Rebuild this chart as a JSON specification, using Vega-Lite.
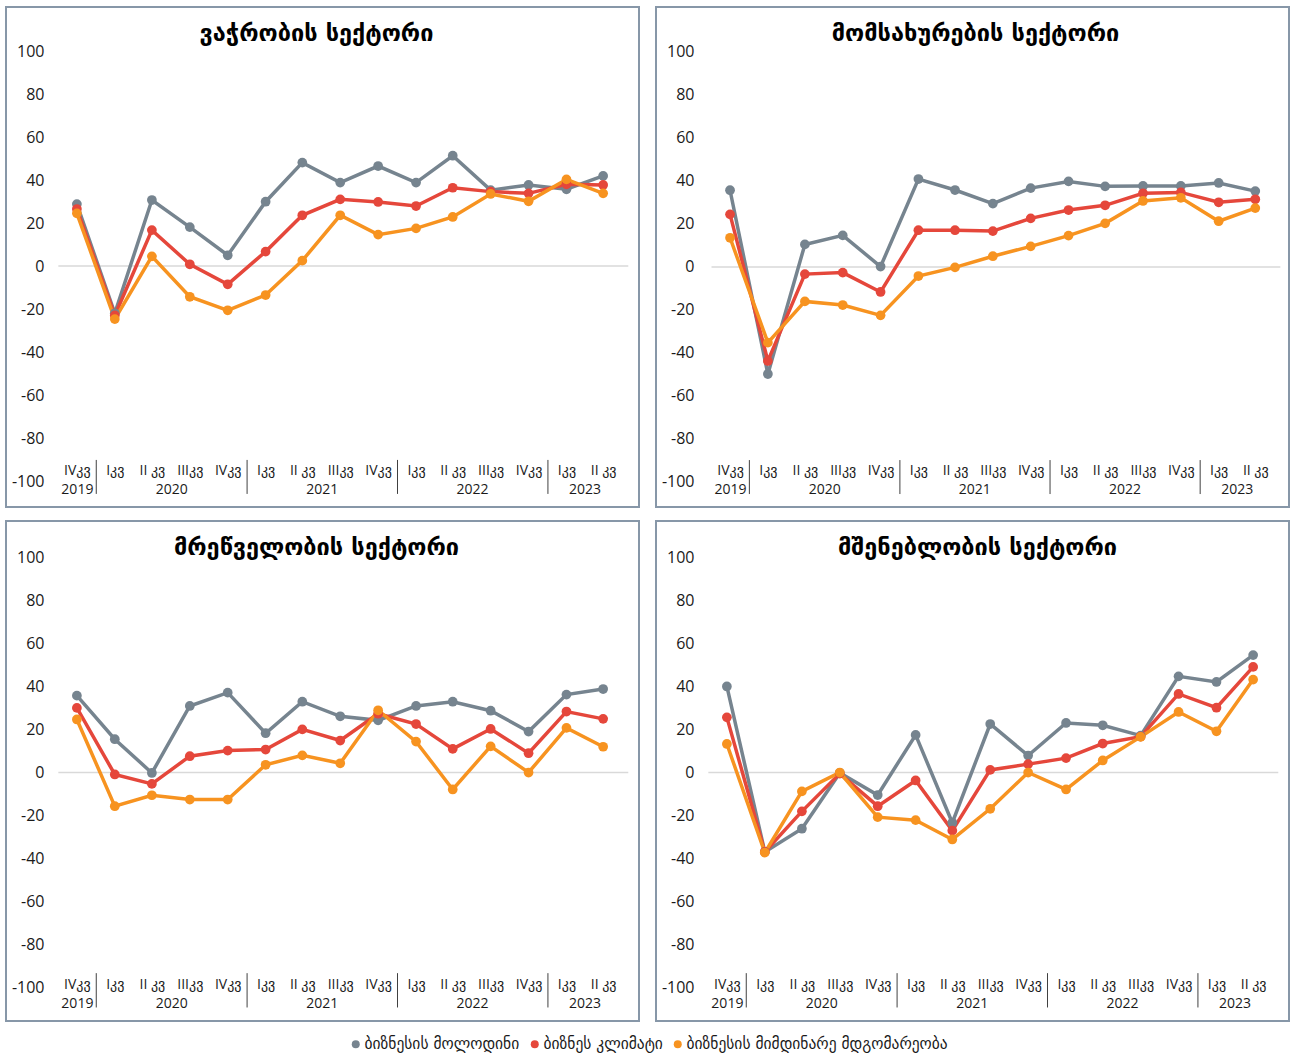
{
  "$schema": "https://vega.github.io/schema/vega-lite/v6.json",
  "padding": {"left": 5, "top": 6, "right": 0, "bottom": 30},
  "background": "white",
  "datasets": {
    "series": [
      {"k": "g", "name": "ბიზნესის მოლოდინი"},
      {"k": "r", "name": "ბიზნეს კლიმატი"},
      {"k": "o", "name": "ბიზნესის მიმდინარე მდგომარეობა"}
    ],
    "bounds": [{"b": "2020-01-01"}, {"b": "2021-01-01"}, {"b": "2022-01-01"}, {"b": "2023-01-01"}],
    "main": [
      {"s": "t", "d": "2019-11-15", "g": 28.8, "r": 26.5, "o": 24.5},
      {"s": "t", "d": "2020-02-15", "g": -22.0, "r": -23.0, "o": -24.7},
      {"s": "t", "d": "2020-05-15", "g": 30.7, "r": 16.7, "o": 4.5},
      {"s": "t", "d": "2020-08-15", "g": 18.1, "r": 0.8, "o": -14.3},
      {"s": "t", "d": "2020-11-15", "g": 5.0, "r": -8.5, "o": -20.6},
      {"s": "t", "d": "2021-02-15", "g": 29.9, "r": 6.7, "o": -13.5},
      {"s": "t", "d": "2021-05-15", "g": 48.1, "r": 23.6, "o": 2.5},
      {"s": "t", "d": "2021-08-15", "g": 38.8, "r": 31.0, "o": 23.6},
      {"s": "t", "d": "2021-11-15", "g": 46.5, "r": 29.8, "o": 14.6},
      {"s": "t", "d": "2022-02-15", "g": 38.8, "r": 27.9, "o": 17.5},
      {"s": "t", "d": "2022-05-15", "g": 51.3, "r": 36.4, "o": 22.8},
      {"s": "t", "d": "2022-08-15", "g": 35.3, "r": 34.6, "o": 33.5},
      {"s": "t", "d": "2022-11-15", "g": 37.7, "r": 33.8, "o": 30.1},
      {"s": "t", "d": "2023-02-15", "g": 35.7, "r": 38.0, "o": 40.3},
      {"s": "t", "d": "2023-05-15", "g": 41.9, "r": 37.7, "o": 33.8},
      {"s": "m", "d": "2019-11-15", "g": 35.7, "r": 24.5, "o": 13.6},
      {"s": "m", "d": "2020-02-15", "g": -49.8, "r": -43.7, "o": -35.2},
      {"s": "m", "d": "2020-05-15", "g": 10.5, "r": -3.3, "o": -16.0},
      {"s": "m", "d": "2020-08-15", "g": 14.7, "r": -2.6, "o": -17.7},
      {"s": "m", "d": "2020-11-15", "g": 0.2, "r": -11.6, "o": -22.5},
      {"s": "m", "d": "2021-02-15", "g": 40.9, "r": 17.1, "o": -4.2},
      {"s": "m", "d": "2021-05-15", "g": 35.8, "r": 17.1, "o": -0.2},
      {"s": "m", "d": "2021-08-15", "g": 29.5, "r": 16.7, "o": 5.0},
      {"s": "m", "d": "2021-11-15", "g": 36.7, "r": 22.6, "o": 9.6},
      {"s": "m", "d": "2022-02-15", "g": 39.8, "r": 26.5, "o": 14.6},
      {"s": "m", "d": "2022-05-15", "g": 37.5, "r": 28.7, "o": 20.3},
      {"s": "m", "d": "2022-08-15", "g": 37.7, "r": 34.3, "o": 30.7},
      {"s": "m", "d": "2022-11-15", "g": 37.7, "r": 34.7, "o": 32.2},
      {"s": "m", "d": "2023-02-15", "g": 39.1, "r": 30.1, "o": 21.3},
      {"s": "m", "d": "2023-05-15", "g": 35.3, "r": 31.5, "o": 27.4},
      {"s": "i", "d": "2019-11-15", "g": 35.8, "r": 30.1, "o": 24.7},
      {"s": "i", "d": "2020-02-15", "g": 15.5, "r": -0.9, "o": -15.7},
      {"s": "i", "d": "2020-05-15", "g": -0.2, "r": -5.3, "o": -10.6},
      {"s": "i", "d": "2020-08-15", "g": 31.0, "r": 7.6, "o": -12.6},
      {"s": "i", "d": "2020-11-15", "g": 37.2, "r": 10.2, "o": -12.6},
      {"s": "i", "d": "2021-02-15", "g": 18.3, "r": 10.7, "o": 3.6},
      {"s": "i", "d": "2021-05-15", "g": 33.0, "r": 20.1, "o": 8.0},
      {"s": "i", "d": "2021-08-15", "g": 26.2, "r": 14.9, "o": 4.3},
      {"s": "i", "d": "2021-11-15", "g": 24.3, "r": 27.4, "o": 29.0},
      {"s": "i", "d": "2022-02-15", "g": 31.0, "r": 22.6, "o": 14.4},
      {"s": "i", "d": "2022-05-15", "g": 33.0, "r": 11.0, "o": -7.9},
      {"s": "i", "d": "2022-08-15", "g": 28.8, "r": 20.3, "o": 12.2},
      {"s": "i", "d": "2022-11-15", "g": 19.1, "r": 9.0, "o": 0.0},
      {"s": "i", "d": "2023-02-15", "g": 36.3, "r": 28.4, "o": 20.8},
      {"s": "i", "d": "2023-05-15", "g": 38.9, "r": 25.0, "o": 12.0},
      {"s": "c", "d": "2019-11-15", "g": 40.1, "r": 25.7, "o": 13.3},
      {"s": "c", "d": "2020-02-15", "g": -37.0, "r": -37.0, "o": -37.3},
      {"s": "c", "d": "2020-05-15", "g": -26.2, "r": -18.1, "o": -8.8},
      {"s": "c", "d": "2020-08-15", "g": -0.2, "r": -0.5, "o": 0.0},
      {"s": "c", "d": "2020-11-15", "g": -10.5, "r": -15.7, "o": -20.8},
      {"s": "c", "d": "2021-02-15", "g": 17.5, "r": -3.7, "o": -22.2},
      {"s": "c", "d": "2021-05-15", "g": -23.4, "r": -27.1, "o": -31.2},
      {"s": "c", "d": "2021-08-15", "g": 22.6, "r": 1.2, "o": -16.9},
      {"s": "c", "d": "2021-11-15", "g": 7.9, "r": 3.9, "o": 0.0},
      {"s": "c", "d": "2022-02-15", "g": 23.1, "r": 6.7, "o": -7.9},
      {"s": "c", "d": "2022-05-15", "g": 22.0, "r": 13.5, "o": 5.6},
      {"s": "c", "d": "2022-08-15", "g": 17.2, "r": 16.7, "o": 16.6},
      {"s": "c", "d": "2022-11-15", "g": 44.8, "r": 36.6, "o": 28.2},
      {"s": "c", "d": "2023-02-15", "g": 42.2, "r": 30.2, "o": 19.2},
      {"s": "c", "d": "2023-05-15", "g": 54.7, "r": 49.2, "o": 43.3}
    ]
  },
  "data": {"name": "main"},
  "columns": 2,
  "spacing": {"row": 12, "column": 15},
  "resolve": {"scale": {"color": "shared", "stroke": "shared"}, "legend": {"color": "shared", "stroke": "shared"}},
  "concat": [
    {
      "title": {"text": "ვაჭრობის სექტორი", "frame": "group", "offset": -38, "dx": -6},
      "width": 633, "height": 500,
      "transform": [
        {"filter": "datum.s == 't'"},
        {"fold": ["g", "r", "o"], "as": ["k", "v"]},
        {"lookup": "k", "from": {"data": {"name": "series"}, "key": "k", "fields": ["name"]}}
      ],
      "resolve": {"axis": {"x": "independent"}},
      "layer": [
        {
          "data": {"values": [{}]},
          "mark": {"type": "rule", "color": "#d9d9d9", "strokeWidth": 1.5},
          "encoding": {
            "x": {"datum": {"year": 2019, "month": 10, "date": 1, "utc": true}, "type": "temporal", "axis": null},
            "x2": {"datum": {"year": 2023, "month": 7, "date": 15, "utc": true}},
            "y": {"datum": 0, "type": "quantitative"}
          }
        },
        {
          "mark": {"type": "line", "strokeWidth": 3.5},
          "encoding": {
            "x": {"field": "d", "type": "temporal",
              "scale": {"type": "utc", "nice": false, "domain": [{"year": 2019, "month": 5, "date": 27, "utc": true}, {"year": 2023, "month": 8, "date": 10, "utc": true}]},
              "axis": {"orient": "bottom", "offset": -44, "title": null, "domain": false, "ticks": false, "tickSize": 0, "grid": false, "labelPadding": 0, "labelFontSize": 14, "labelFlush": false, "labelOverlap": false,
                "values": [{"year": 2019, "month": 11, "date": 15, "utc": true}, {"year": 2020, "month": 2, "date": 15, "utc": true}, {"year": 2020, "month": 5, "date": 15, "utc": true}, {"year": 2020, "month": 8, "date": 15, "utc": true}, {"year": 2020, "month": 11, "date": 15, "utc": true}, {"year": 2021, "month": 2, "date": 15, "utc": true}, {"year": 2021, "month": 5, "date": 15, "utc": true}, {"year": 2021, "month": 8, "date": 15, "utc": true}, {"year": 2021, "month": 11, "date": 15, "utc": true}, {"year": 2022, "month": 2, "date": 15, "utc": true}, {"year": 2022, "month": 5, "date": 15, "utc": true}, {"year": 2022, "month": 8, "date": 15, "utc": true}, {"year": 2022, "month": 11, "date": 15, "utc": true}, {"year": 2023, "month": 2, "date": 15, "utc": true}, {"year": 2023, "month": 5, "date": 15, "utc": true}],
                "labelExpr": "utcmonth(datum.value) == 1 ? 'Iკვ' : utcmonth(datum.value) == 4 ? 'II კვ' : utcmonth(datum.value) == 7 ? 'IIIკვ' : 'IVკვ'"}},
            "y": {"field": "v", "type": "quantitative",
              "scale": {"domain": [-112.09, 120.47], "nice": false, "zero": false},
              "axis": {"orient": "left", "offset": -38, "title": null, "domain": false, "ticks": false, "tickSize": 0, "grid": false, "labelPadding": 0, "labelFontSize": 16, "values": [-100, -80, -60, -40, -20, 0, 20, 40, 60, 80, 100], "labelExpr": "datum.value + ''"}},
            "stroke": {"field": "name", "type": "nominal",
              "scale": {"domain": ["ბიზნესის მოლოდინი", "ბიზნეს კლიმატი", "ბიზნესის მიმდინარე მდგომარეობა"], "range": ["#76848f", "#e5473b", "#f79320"]},
              "legend": {"orient": "none", "legendX": 342, "legendY": 1029, "direction": "horizontal", "title": null, "symbolType": "circle", "symbolSize": 64, "symbolStrokeWidth": 0, "labelFontSize": 15.5, "labelLimit": 500, "labelFont": "DejaVu Sans", "columnPadding": 7, "labelOffset": 1}}
          }
        },
        {
          "mark": {"type": "point", "filled": true, "size": 95, "opacity": 1},
          "encoding": {
            "x": {"field": "d", "type": "temporal", "axis": null},
            "y": {"field": "v", "type": "quantitative"},
            "color": {"field": "name", "type": "nominal",
              "scale": {"domain": ["ბიზნესის მოლოდინი", "ბიზნეს კლიმატი", "ბიზნესის მიმდინარე მდგომარეობა"], "range": ["#76848f", "#e5473b", "#f79320"]},
              "legend": {"orient": "none", "legendX": 342, "legendY": 1029, "direction": "horizontal", "title": null, "symbolType": "circle", "symbolSize": 64, "symbolStrokeWidth": 0, "labelFontSize": 15.5, "labelLimit": 500, "labelFont": "DejaVu Sans", "columnPadding": 7, "labelOffset": 1}}
          }
        },
        {
          "data": {"name": "bounds"},
          "mark": {"type": "rule", "color": "#404040", "strokeWidth": 1},
          "encoding": {
            "x": {"field": "b", "type": "temporal",
              "axis": {"orient": "top", "offset": -489, "title": null, "domain": false, "ticks": false, "tickSize": 0, "grid": false, "labelPadding": 0, "labelFontSize": 14, "format": "%Y", "labelFlush": false, "labelOverlap": false,
                "values": [{"year": 2019, "month": 11, "date": 15, "utc": true}, {"year": 2020, "month": 7, "date": 1, "utc": true}, {"year": 2021, "month": 7, "date": 1, "utc": true}, {"year": 2022, "month": 7, "date": 1, "utc": true}, {"year": 2023, "month": 3, "date": 31, "utc": true}]}},
            "y": {"datum": -90.2, "type": "quantitative"},
            "y2": {"datum": -106}
          }
        }
      ]
    },
    {
      "title": {"text": "მომსახურების სექტორი", "frame": "group", "offset": -38, "dx": 3},
      "width": 633, "height": 500,
      "transform": [
        {"filter": "datum.s == 'm'"},
        {"fold": ["g", "r", "o"], "as": ["k", "v"]},
        {"lookup": "k", "from": {"data": {"name": "series"}, "key": "k", "fields": ["name"]}}
      ],
      "resolve": {"axis": {"x": "independent"}},
      "layer": [
        {
          "data": {"values": [{}]},
          "mark": {"type": "rule", "color": "#d9d9d9", "strokeWidth": 1.5},
          "encoding": {
            "x": {"datum": {"year": 2019, "month": 10, "date": 1, "utc": true}, "type": "temporal", "axis": null},
            "x2": {"datum": {"year": 2023, "month": 7, "date": 15, "utc": true}},
            "y": {"datum": 0, "type": "quantitative"}
          }
        },
        {
          "mark": {"type": "line", "strokeWidth": 3.5},
          "encoding": {
            "x": {"field": "d", "type": "temporal",
              "scale": {"type": "utc", "nice": false, "domain": [{"year": 2019, "month": 5, "date": 19, "utc": true}, {"year": 2023, "month": 8, "date": 5, "utc": true}]},
              "axis": {"orient": "bottom", "offset": -44, "title": null, "domain": false, "ticks": false, "tickSize": 0, "grid": false, "labelPadding": 0, "labelFontSize": 14, "labelFlush": false, "labelOverlap": false,
                "values": [{"year": 2019, "month": 11, "date": 15, "utc": true}, {"year": 2020, "month": 2, "date": 15, "utc": true}, {"year": 2020, "month": 5, "date": 15, "utc": true}, {"year": 2020, "month": 8, "date": 15, "utc": true}, {"year": 2020, "month": 11, "date": 15, "utc": true}, {"year": 2021, "month": 2, "date": 15, "utc": true}, {"year": 2021, "month": 5, "date": 15, "utc": true}, {"year": 2021, "month": 8, "date": 15, "utc": true}, {"year": 2021, "month": 11, "date": 15, "utc": true}, {"year": 2022, "month": 2, "date": 15, "utc": true}, {"year": 2022, "month": 5, "date": 15, "utc": true}, {"year": 2022, "month": 8, "date": 15, "utc": true}, {"year": 2022, "month": 11, "date": 15, "utc": true}, {"year": 2023, "month": 2, "date": 15, "utc": true}, {"year": 2023, "month": 5, "date": 15, "utc": true}],
                "labelExpr": "utcmonth(datum.value) == 1 ? 'Iკვ' : utcmonth(datum.value) == 4 ? 'II კვ' : utcmonth(datum.value) == 7 ? 'IIIკვ' : 'IVკვ'"}},
            "y": {"field": "v", "type": "quantitative",
              "scale": {"domain": [-111.63, 120.93], "nice": false, "zero": false},
              "axis": {"orient": "left", "offset": -38, "title": null, "domain": false, "ticks": false, "tickSize": 0, "grid": false, "labelPadding": 0, "labelFontSize": 16, "values": [-100, -80, -60, -40, -20, 0, 20, 40, 60, 80, 100], "labelExpr": "datum.value + ''"}},
            "stroke": {"field": "name", "type": "nominal",
              "scale": {"domain": ["ბიზნესის მოლოდინი", "ბიზნეს კლიმატი", "ბიზნესის მიმდინარე მდგომარეობა"], "range": ["#76848f", "#e5473b", "#f79320"]},
              "legend": {"orient": "none", "legendX": 342, "legendY": 1029, "direction": "horizontal", "title": null, "symbolType": "circle", "symbolSize": 64, "symbolStrokeWidth": 0, "labelFontSize": 15.5, "labelLimit": 500, "labelFont": "DejaVu Sans", "columnPadding": 7, "labelOffset": 1}}
          }
        },
        {
          "mark": {"type": "point", "filled": true, "size": 95, "opacity": 1},
          "encoding": {
            "x": {"field": "d", "type": "temporal", "axis": null},
            "y": {"field": "v", "type": "quantitative"},
            "color": {"field": "name", "type": "nominal",
              "scale": {"domain": ["ბიზნესის მოლოდინი", "ბიზნეს კლიმატი", "ბიზნესის მიმდინარე მდგომარეობა"], "range": ["#76848f", "#e5473b", "#f79320"]},
              "legend": {"orient": "none", "legendX": 342, "legendY": 1029, "direction": "horizontal", "title": null, "symbolType": "circle", "symbolSize": 64, "symbolStrokeWidth": 0, "labelFontSize": 15.5, "labelLimit": 500, "labelFont": "DejaVu Sans", "columnPadding": 7, "labelOffset": 1}}
          }
        },
        {
          "data": {"name": "bounds"},
          "mark": {"type": "rule", "color": "#404040", "strokeWidth": 1},
          "encoding": {
            "x": {"field": "b", "type": "temporal",
              "axis": {"orient": "top", "offset": -489, "title": null, "domain": false, "ticks": false, "tickSize": 0, "grid": false, "labelPadding": 0, "labelFontSize": 14, "format": "%Y", "labelFlush": false, "labelOverlap": false,
                "values": [{"year": 2019, "month": 11, "date": 15, "utc": true}, {"year": 2020, "month": 7, "date": 1, "utc": true}, {"year": 2021, "month": 7, "date": 1, "utc": true}, {"year": 2022, "month": 7, "date": 1, "utc": true}, {"year": 2023, "month": 3, "date": 31, "utc": true}]}},
            "y": {"datum": -89.8, "type": "quantitative"},
            "y2": {"datum": -105.6}
          }
        }
      ]
    },
    {
      "title": {"text": "მრეწველობის სექტორი", "frame": "group", "offset": -38, "dx": -6},
      "width": 633, "height": 500,
      "transform": [
        {"filter": "datum.s == 'i'"},
        {"fold": ["g", "r", "o"], "as": ["k", "v"]},
        {"lookup": "k", "from": {"data": {"name": "series"}, "key": "k", "fields": ["name"]}}
      ],
      "resolve": {"axis": {"x": "independent"}},
      "layer": [
        {
          "data": {"values": [{}]},
          "mark": {"type": "rule", "color": "#d9d9d9", "strokeWidth": 1.5},
          "encoding": {
            "x": {"datum": {"year": 2019, "month": 10, "date": 1, "utc": true}, "type": "temporal", "axis": null},
            "x2": {"datum": {"year": 2023, "month": 7, "date": 15, "utc": true}},
            "y": {"datum": 0, "type": "quantitative"}
          }
        },
        {
          "mark": {"type": "line", "strokeWidth": 3.5},
          "encoding": {
            "x": {"field": "d", "type": "temporal",
              "scale": {"type": "utc", "nice": false, "domain": [{"year": 2019, "month": 5, "date": 27, "utc": true}, {"year": 2023, "month": 8, "date": 10, "utc": true}]},
              "axis": {"orient": "bottom", "offset": -44, "title": null, "domain": false, "ticks": false, "tickSize": 0, "grid": false, "labelPadding": 0, "labelFontSize": 14, "labelFlush": false, "labelOverlap": false,
                "values": [{"year": 2019, "month": 11, "date": 15, "utc": true}, {"year": 2020, "month": 2, "date": 15, "utc": true}, {"year": 2020, "month": 5, "date": 15, "utc": true}, {"year": 2020, "month": 8, "date": 15, "utc": true}, {"year": 2020, "month": 11, "date": 15, "utc": true}, {"year": 2021, "month": 2, "date": 15, "utc": true}, {"year": 2021, "month": 5, "date": 15, "utc": true}, {"year": 2021, "month": 8, "date": 15, "utc": true}, {"year": 2021, "month": 11, "date": 15, "utc": true}, {"year": 2022, "month": 2, "date": 15, "utc": true}, {"year": 2022, "month": 5, "date": 15, "utc": true}, {"year": 2022, "month": 8, "date": 15, "utc": true}, {"year": 2022, "month": 11, "date": 15, "utc": true}, {"year": 2023, "month": 2, "date": 15, "utc": true}, {"year": 2023, "month": 5, "date": 15, "utc": true}],
                "labelExpr": "utcmonth(datum.value) == 1 ? 'Iკვ' : utcmonth(datum.value) == 4 ? 'II კვ' : utcmonth(datum.value) == 7 ? 'IIIკვ' : 'IVკვ'"}},
            "y": {"field": "v", "type": "quantitative",
              "scale": {"domain": [-115.8, 117.2], "nice": false, "zero": false},
              "axis": {"orient": "left", "offset": -38, "title": null, "domain": false, "ticks": false, "tickSize": 0, "grid": false, "labelPadding": 0, "labelFontSize": 16, "values": [-100, -80, -60, -40, -20, 0, 20, 40, 60, 80, 100], "labelExpr": "datum.value + ''"}},
            "stroke": {"field": "name", "type": "nominal",
              "scale": {"domain": ["ბიზნესის მოლოდინი", "ბიზნეს კლიმატი", "ბიზნესის მიმდინარე მდგომარეობა"], "range": ["#76848f", "#e5473b", "#f79320"]},
              "legend": {"orient": "none", "legendX": 342, "legendY": 1029, "direction": "horizontal", "title": null, "symbolType": "circle", "symbolSize": 64, "symbolStrokeWidth": 0, "labelFontSize": 15.5, "labelLimit": 500, "labelFont": "DejaVu Sans", "columnPadding": 7, "labelOffset": 1}}
          }
        },
        {
          "mark": {"type": "point", "filled": true, "size": 95, "opacity": 1},
          "encoding": {
            "x": {"field": "d", "type": "temporal", "axis": null},
            "y": {"field": "v", "type": "quantitative"},
            "color": {"field": "name", "type": "nominal",
              "scale": {"domain": ["ბიზნესის მოლოდინი", "ბიზნეს კლიმატი", "ბიზნესის მიმდინარე მდგომარეობა"], "range": ["#76848f", "#e5473b", "#f79320"]},
              "legend": {"orient": "none", "legendX": 342, "legendY": 1029, "direction": "horizontal", "title": null, "symbolType": "circle", "symbolSize": 64, "symbolStrokeWidth": 0, "labelFontSize": 15.5, "labelLimit": 500, "labelFont": "DejaVu Sans", "columnPadding": 7, "labelOffset": 1}}
          }
        },
        {
          "data": {"name": "bounds"},
          "mark": {"type": "rule", "color": "#404040", "strokeWidth": 1},
          "encoding": {
            "x": {"field": "b", "type": "temporal",
              "axis": {"orient": "top", "offset": -489, "title": null, "domain": false, "ticks": false, "tickSize": 0, "grid": false, "labelPadding": 0, "labelFontSize": 14, "format": "%Y", "labelFlush": false, "labelOverlap": false,
                "values": [{"year": 2019, "month": 11, "date": 15, "utc": true}, {"year": 2020, "month": 7, "date": 1, "utc": true}, {"year": 2021, "month": 7, "date": 1, "utc": true}, {"year": 2022, "month": 7, "date": 1, "utc": true}, {"year": 2023, "month": 3, "date": 31, "utc": true}]}},
            "y": {"datum": -93.5, "type": "quantitative"},
            "y2": {"datum": -109.5}
          }
        }
      ]
    },
    {
      "title": {"text": "მშენებლობის სექტორი", "frame": "group", "offset": -38, "dx": 5},
      "width": 633, "height": 500,
      "transform": [
        {"filter": "datum.s == 'c'"},
        {"fold": ["g", "r", "o"], "as": ["k", "v"]},
        {"lookup": "k", "from": {"data": {"name": "series"}, "key": "k", "fields": ["name"]}}
      ],
      "resolve": {"axis": {"x": "independent"}},
      "layer": [
        {
          "data": {"values": [{}]},
          "mark": {"type": "rule", "color": "#d9d9d9", "strokeWidth": 1.5},
          "encoding": {
            "x": {"datum": {"year": 2019, "month": 10, "date": 1, "utc": true}, "type": "temporal", "axis": null},
            "x2": {"datum": {"year": 2023, "month": 7, "date": 15, "utc": true}},
            "y": {"datum": 0, "type": "quantitative"}
          }
        },
        {
          "mark": {"type": "line", "strokeWidth": 3.5},
          "encoding": {
            "x": {"field": "d", "type": "temporal",
              "scale": {"type": "utc", "nice": false, "domain": [{"year": 2019, "month": 5, "date": 27, "utc": true}, {"year": 2023, "month": 8, "date": 10, "utc": true}]},
              "axis": {"orient": "bottom", "offset": -44, "title": null, "domain": false, "ticks": false, "tickSize": 0, "grid": false, "labelPadding": 0, "labelFontSize": 14, "labelFlush": false, "labelOverlap": false,
                "values": [{"year": 2019, "month": 11, "date": 15, "utc": true}, {"year": 2020, "month": 2, "date": 15, "utc": true}, {"year": 2020, "month": 5, "date": 15, "utc": true}, {"year": 2020, "month": 8, "date": 15, "utc": true}, {"year": 2020, "month": 11, "date": 15, "utc": true}, {"year": 2021, "month": 2, "date": 15, "utc": true}, {"year": 2021, "month": 5, "date": 15, "utc": true}, {"year": 2021, "month": 8, "date": 15, "utc": true}, {"year": 2021, "month": 11, "date": 15, "utc": true}, {"year": 2022, "month": 2, "date": 15, "utc": true}, {"year": 2022, "month": 5, "date": 15, "utc": true}, {"year": 2022, "month": 8, "date": 15, "utc": true}, {"year": 2022, "month": 11, "date": 15, "utc": true}, {"year": 2023, "month": 2, "date": 15, "utc": true}, {"year": 2023, "month": 5, "date": 15, "utc": true}],
                "labelExpr": "utcmonth(datum.value) == 1 ? 'Iკვ' : utcmonth(datum.value) == 4 ? 'II კვ' : utcmonth(datum.value) == 7 ? 'IIIკვ' : 'IVკვ'"}},
            "y": {"field": "v", "type": "quantitative",
              "scale": {"domain": [-115.8, 117.2], "nice": false, "zero": false},
              "axis": {"orient": "left", "offset": -38, "title": null, "domain": false, "ticks": false, "tickSize": 0, "grid": false, "labelPadding": 0, "labelFontSize": 16, "values": [-100, -80, -60, -40, -20, 0, 20, 40, 60, 80, 100], "labelExpr": "datum.value + ''"}},
            "stroke": {"field": "name", "type": "nominal",
              "scale": {"domain": ["ბიზნესის მოლოდინი", "ბიზნეს კლიმატი", "ბიზნესის მიმდინარე მდგომარეობა"], "range": ["#76848f", "#e5473b", "#f79320"]},
              "legend": {"orient": "none", "legendX": 342, "legendY": 1029, "direction": "horizontal", "title": null, "symbolType": "circle", "symbolSize": 64, "symbolStrokeWidth": 0, "labelFontSize": 15.5, "labelLimit": 500, "labelFont": "DejaVu Sans", "columnPadding": 7, "labelOffset": 1}}
          }
        },
        {
          "mark": {"type": "point", "filled": true, "size": 95, "opacity": 1},
          "encoding": {
            "x": {"field": "d", "type": "temporal", "axis": null},
            "y": {"field": "v", "type": "quantitative"},
            "color": {"field": "name", "type": "nominal",
              "scale": {"domain": ["ბიზნესის მოლოდინი", "ბიზნეს კლიმატი", "ბიზნესის მიმდინარე მდგომარეობა"], "range": ["#76848f", "#e5473b", "#f79320"]},
              "legend": {"orient": "none", "legendX": 342, "legendY": 1029, "direction": "horizontal", "title": null, "symbolType": "circle", "symbolSize": 64, "symbolStrokeWidth": 0, "labelFontSize": 15.5, "labelLimit": 500, "labelFont": "DejaVu Sans", "columnPadding": 7, "labelOffset": 1}}
          }
        },
        {
          "data": {"name": "bounds"},
          "mark": {"type": "rule", "color": "#404040", "strokeWidth": 1},
          "encoding": {
            "x": {"field": "b", "type": "temporal",
              "axis": {"orient": "top", "offset": -489, "title": null, "domain": false, "ticks": false, "tickSize": 0, "grid": false, "labelPadding": 0, "labelFontSize": 14, "format": "%Y", "labelFlush": false, "labelOverlap": false,
                "values": [{"year": 2019, "month": 11, "date": 15, "utc": true}, {"year": 2020, "month": 7, "date": 1, "utc": true}, {"year": 2021, "month": 7, "date": 1, "utc": true}, {"year": 2022, "month": 7, "date": 1, "utc": true}, {"year": 2023, "month": 3, "date": 31, "utc": true}]}},
            "y": {"datum": -93.5, "type": "quantitative"},
            "y2": {"datum": -109.5}
          }
        }
      ]
    }
  ],
  "config": {
    "view": {"stroke": "#8797a8", "strokeWidth": 2, "fill": "white"},
    "axis": {"labelFont": "Open Sans, DejaVu Sans", "labelColor": "#1a1a1a"},
    "title": {"font": "DejaVu Sans", "fontSize": 23.5, "fontWeight": "bold", "color": "#000000", "anchor": "middle"},
    "legend": {"labelColor": "#1a1a1a", "labelFont": "DejaVu Sans", "labelFontSize": 15.5, "labelLimit": 500}
  }
}
